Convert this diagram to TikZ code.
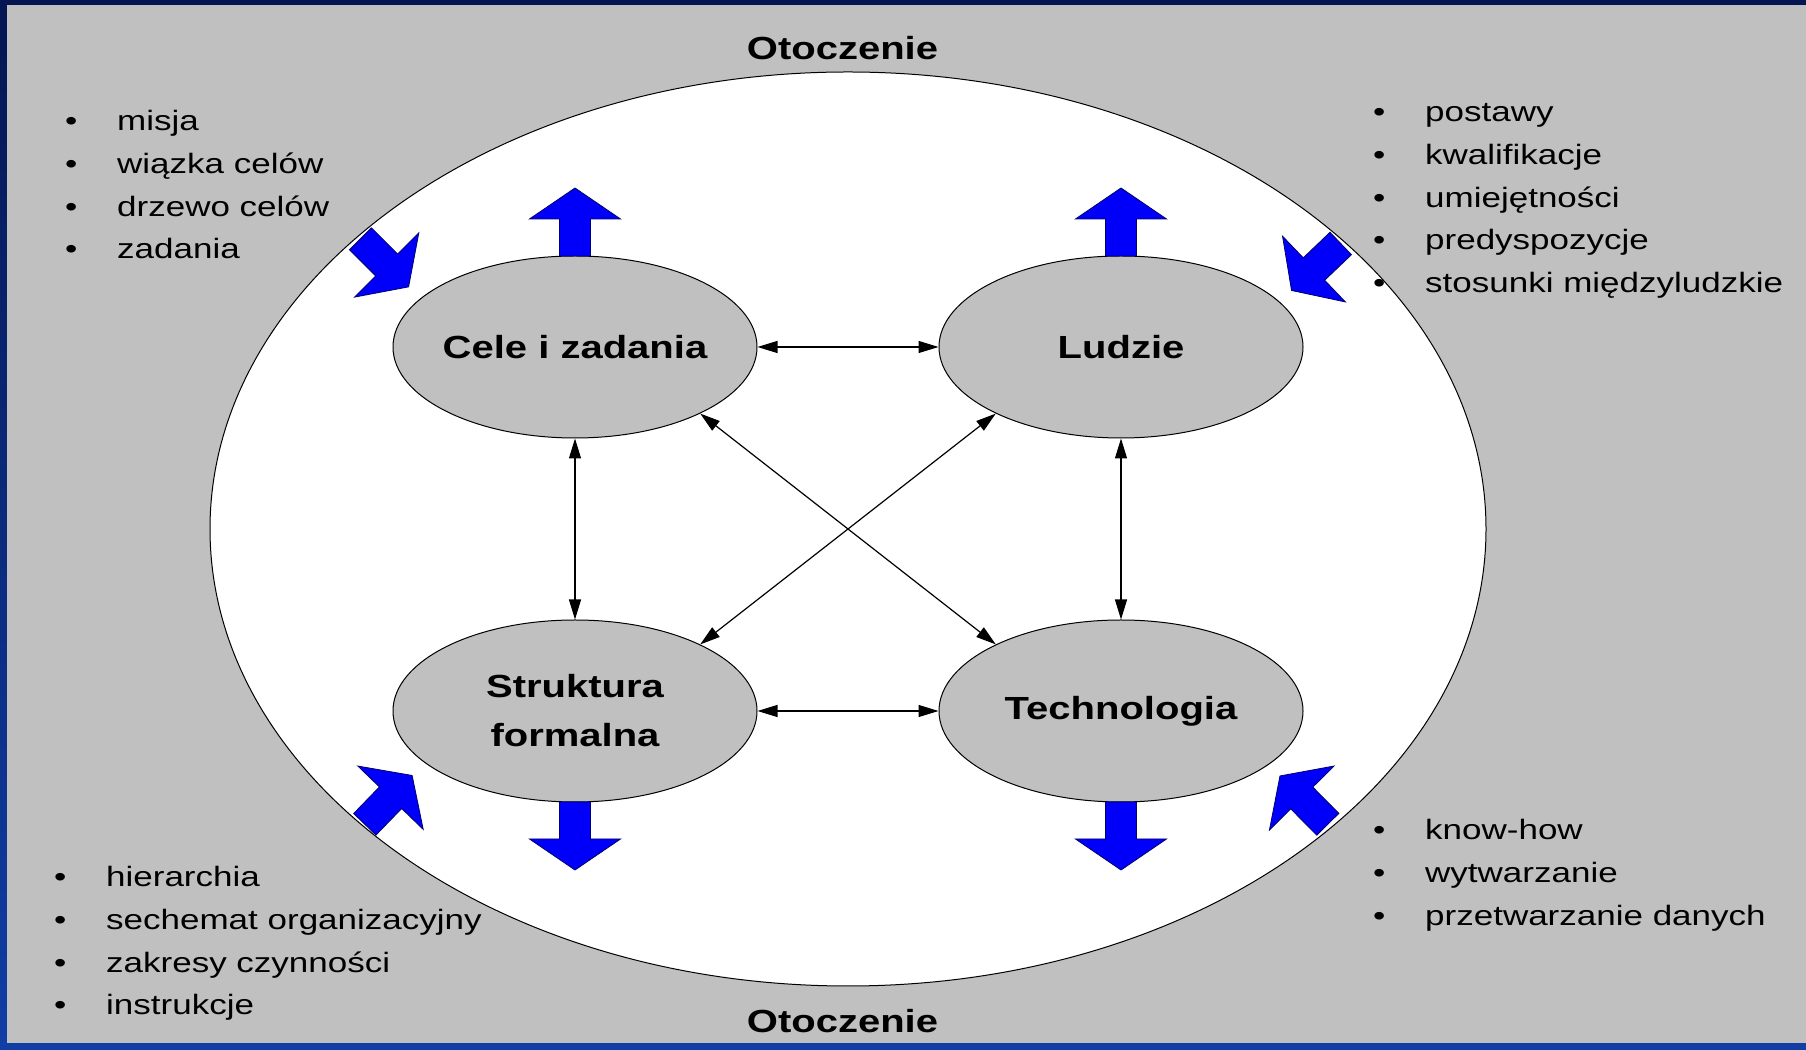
\documentclass[tikz,border=0pt]{standalone}
\usepackage{fontspec}
\setmainfont{Liberation Sans}[FakeStretch=1.25]
\usetikzlibrary{shapes.geometric,arrows.meta}
\definecolor{slidegray}{RGB}{192,192,192}
\definecolor{framenavy}{RGB}{4,22,82}
\definecolor{frameblue}{RGB}{16,62,165}
\definecolor{arrowblue}{RGB}{0,0,250}
\definecolor{arrowedge}{RGB}{0,0,110}
\newcommand\blockarrow[2]{%
  \begin{scope}[shift={#1},rotate=#2]
    \filldraw[barrow] (0,-15.5) -- (37,-15.5) -- (37,-45.5) -- (68,0) -- (37,45.5) -- (37,15.5) -- (0,15.5) -- cycle;
  \end{scope}}
\newcommand\bitem[1]{\makebox[46pt][l]{\makebox[0pt][c]{\textbullet}}#1}
\tikzset{
  bubble/.style={draw=black, line width=1pt, fill=slidegray, ellipse, inner sep=0pt,
                 minimum width=364pt, minimum height=182pt},
  lbl/.style={font=\fontsize{32}{49}\selectfont\bfseries, align=center, inner sep=0pt},
  item/.style={font=\fontsize{28}{34}\selectfont, inner sep=0pt, anchor=base west},
  conn/.style={draw=black, line width=1.2pt, {Triangle[length=20pt,width=12pt]}-{Triangle[length=20pt,width=12pt]}},
  barrow/.style={fill=arrowblue, draw=arrowedge, line width=0.8pt, line join=miter}
}
\begin{document}
\begin{tikzpicture}[x=1pt,y=1pt]
\useasboundingbox (0,0) rectangle (1806,1049);
% frame and slide background
\shade[top color=framenavy, bottom color=frameblue] (0,0) rectangle (1806,1049);
\fill[slidegray] (7,6) rectangle (1806,1044);
% environment ellipse
\node[draw=black, line width=1pt, fill=white, ellipse, inner sep=0pt,
      minimum width=1276pt, minimum height=914pt] (env) at (848,520) {};
\node[lbl, anchor=base] (otop) at (842.5,989) {Otoczenie};
\node[lbl, anchor=base] (obot) at (842.5,17) {Otoczenie};
% four elements
\node[bubble, label={[lbl]center:Cele i zadania}] (cele) at (575,702) {};
\node[bubble, label={[lbl]center:Ludzie}] (ludzie) at (1121,702) {};
\node[bubble, label={[lbl]center:Struktura\\formalna}] (strukt) at (575,338) {};
\node[bubble, label={[lbl]center:Technologia}] (tech) at (1121,338) {};
% connectors
\draw[conn] (cele.east) -- (ludzie.west);
\draw[conn] (strukt.east) -- (tech.west);
\draw[conn] (cele.south) -- (strukt.north);
\draw[conn] (ludzie.south) -- (tech.north);
\draw[conn] (cele.-28) -- (tech.152);
\draw[conn] (ludzie.208) -- (strukt.28);
% block arrows
\blockarrow{(575,793)}{90}
\blockarrow{(1121,793)}{90}
\blockarrow{(575,247)}{-90}
\blockarrow{(1121,247)}{-90}
\blockarrow{(360.5,810.2)}{-45}
\blockarrow{(1340.7,805.5)}{-136.3}
\blockarrow{(364.8,224.7)}{45.9}
\blockarrow{(1327.8,224.7)}{134.7}
% lists
\foreach \t [count=\i] in {misja, wiązka celów, drzewo celów, zadania}
  \node[item] (tl\i) at (71,{918-42.6*(\i-1)}) {\bitem{\t}};
\foreach \t [count=\i] in {postawy, kwalifikacje, umiejętności, predyspozycje, stosunki międzyludzkie}
  \node[item] (tr\i) at (1379,{927-42.6*(\i-1)}) {\bitem{\t}};
\foreach \t [count=\i] in {hierarchia, sechemat organizacyjny, zakresy czynności, instrukcje}
  \node[item] (bl\i) at (60,{162-42.6*(\i-1)}) {\bitem{\t}};
\foreach \t [count=\i] in {know-how, wytwarzanie, przetwarzanie danych}
  \node[item] (br\i) at (1379,{209-42.6*(\i-1)}) {\bitem{\t}};
\end{tikzpicture}
\end{document}
